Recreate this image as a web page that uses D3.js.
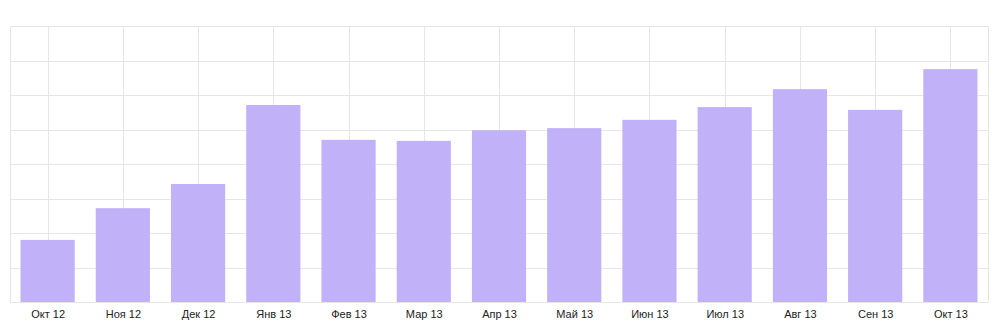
<!DOCTYPE html>
<html>
<head>
<meta charset="utf-8">
<script src="https://cdn.jsdelivr.net/npm/d3@7"></script>
<style>
    body { margin: 0; background: #fff; }
    #d3-chart { width: 1000px; height: 334px; }
    .x-axis text { font-family: Arial, "Liberation Sans", sans-serif; font-size: 11px; fill: #222; }
</style>
</head>
<body>
<div id="d3-chart"></div>
<script>
const months = ['Окт 12', 'Ноя 12', 'Дек 12', 'Янв 13', 'Фев 13', 'Мар 13', 'Апр 13', 'Май 13', 'Июн 13', 'Июл 13', 'Авг 13', 'Сен 13', 'Окт 13'];
const values = [180, 272, 342, 571, 470, 467, 498, 504, 528, 565, 617, 557, 675];
const yTicks = [0, 100, 200, 300, 400, 500, 600, 700, 800];

const margin = { top: 26, right: 12, bottom: 32, left: 10 };
const width = 1000 - margin.left - margin.right;
const height = 334 - margin.top - margin.bottom;

const svg = d3.select('#d3-chart').append('svg')
    .attr('width', 1000)
    .attr('height', 334);
const focus = svg.append('g')
    .attr('transform', 'translate(' + margin.left + ',' + margin.top + ')');

// Scales
const xScale = d3.scaleBand()
    .domain(months)
    .range([0, width])
    .paddingInner(0.28)
    .paddingOuter(0.14);
const xStep = d3.scalePoint()
    .domain(months)
    .range([0, width])
    .padding(0.5);
const yScale = d3.scaleLinear()
    .domain([0, 800])
    .range([height, 0]);

// Grid
focus.append('g')
    .selectAll('line')
    .data(yTicks)
    .enter().append('line')
    .attr('x1', 0)
    .attr('x2', width)
    .attr('y1', d => Math.round(yScale(d)) + 0.5)
    .attr('y2', d => Math.round(yScale(d)) + 0.5)
    .attr('stroke', '#e6e6e6');
focus.append('g')
    .selectAll('line')
    .data(months)
    .enter().append('line')
    .attr('x1', d => Math.round(xStep(d)) + 0.5)
    .attr('x2', d => Math.round(xStep(d)) + 0.5)
    .attr('y1', 0)
    .attr('y2', height)
    .attr('stroke', '#e6e6e6');
// frame sides
focus.append('g')
    .selectAll('line')
    .data([0, width])
    .enter().append('line')
    .attr('x1', d => Math.round(d) + 0.5)
    .attr('x2', d => Math.round(d) + 0.5)
    .attr('y1', 0)
    .attr('y2', height)
    .attr('stroke', '#e6e6e6');

// Bars
focus.append('g')
    .selectAll('rect')
    .data(values)
    .enter().append('rect')
    .attr('x', (d, i) => xScale(months[i]))
    .attr('y', d => yScale(d))
    .attr('width', xScale.bandwidth())
    .attr('height', d => height - yScale(d))
    .attr('fill', '#c1b1f8');

// X axis labels
const xAxis = d3.axisBottom(xStep).tickSize(0).tickPadding(8);
focus.append('g')
    .attr('class', 'x-axis')
    .attr('transform', 'translate(0,' + height + ')')
    .call(xAxis)
    .call(g => g.select('.domain').remove());
</script>
</body>
</html>
